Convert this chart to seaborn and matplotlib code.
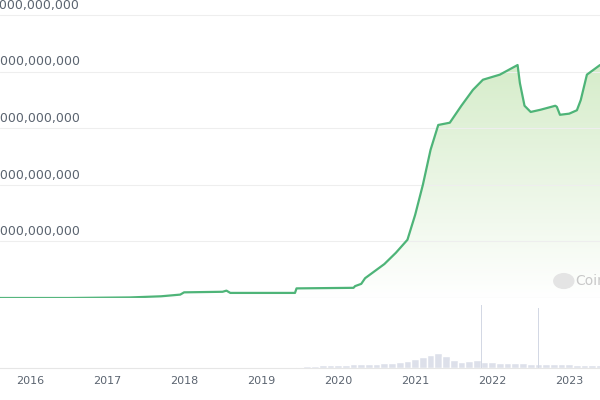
import numpy as np
import pandas as pd
import matplotlib
matplotlib.use('Agg')
import matplotlib.pyplot as plt
import seaborn as sns

# market cap path (decimal year, value in units of 2B)
years = [2015.6, 2016.5, 2017.3, 2017.7, 2017.95, 2018.0, 2018.5, 2018.55, 2018.6, 2019.44, 2019.46,
         2020.2, 2020.22, 2020.3, 2020.35, 2020.5, 2020.6, 2020.75, 2020.9, 2021.0, 2021.1, 2021.2,
         2021.3, 2021.45, 2021.6, 2021.75, 2021.88, 2022.1, 2022.33, 2022.36, 2022.42, 2022.5,
         2022.63, 2022.82, 2022.84, 2022.88, 2023.0, 2023.1, 2023.15, 2023.23, 2023.4]
cap = [0.0, 0.0, 0.01, 0.03, 0.06, 0.1, 0.11, 0.13, 0.09, 0.09, 0.17,
       0.18, 0.21, 0.25, 0.35, 0.5, 0.6, 0.8, 1.03, 1.47, 2.0, 2.62,
       3.06, 3.1, 3.4, 3.68, 3.86, 3.95, 4.12, 3.8, 3.4, 3.29,
       3.33, 3.4, 3.38, 3.24, 3.26, 3.32, 3.5, 3.95, 4.12]
cap_ticks = [1, 2, 3, 4, 5]
cap_labels = ['2,000,000,000', '4,000,000,000', '6,000,000,000', '8,000,000,000', '10,000,000,000']

# volume estimates (relative)
vol_years = [2019.5, 2019.6, 2019.7, 2019.8, 2019.9, 2020.0, 2020.1, 2020.2, 2020.3, 2020.4,
             2020.5, 2020.6, 2020.7, 2020.8, 2020.9, 2021.0, 2021.1, 2021.2, 2021.3, 2021.4,
             2021.5, 2021.6, 2021.7, 2021.8, 2021.9, 2022.0, 2022.1, 2022.2, 2022.3, 2022.4,
             2022.5, 2022.6, 2022.7, 2022.8, 2022.9, 2023.0, 2023.1, 2023.2, 2023.3, 2023.4]
vol = [0.2, 0.3, 0.3, 0.4, 0.4, 0.5, 0.5, 0.6, 0.6, 0.7,
       0.7, 0.8, 0.8, 0.9, 1.1, 1.4, 1.7, 2.0, 2.4, 1.9,
       1.2, 1.0, 1.1, 1.2, 1.0, 0.9, 0.8, 0.8, 0.8, 0.8,
       0.7, 0.7, 0.7, 0.6, 0.6, 0.6, 0.5, 0.5, 0.5, 0.4]
spike_years = [2021.86, 2022.6]
spike_vol = [10.0, 9.6]
year_ticks = [2016, 2017, 2018, 2019, 2020, 2021, 2022, 2023]

sns.set_style('white')
green = '#4eb478'
fig = plt.figure(figsize=(6, 4), dpi=100)
ax = fig.add_axes([0, 1 - 298 / 400, 1, 298 / 400])
ax2 = fig.add_axes([0, 1 - 368 / 400, 1, 66 / 400], sharex=ax)

df = pd.DataFrame({'year': years, 'cap': cap})
sns.lineplot(data=df, x='year', y='cap', ax=ax, color=green, lw=1.6)

# gradient fill under the line
xs = np.linspace(years[0], years[-1], 800)
ys = np.interp(xs, years, cap)
grad = np.linspace(0, 1, 256).reshape(-1, 1)
cmap = matplotlib.colors.LinearSegmentedColormap.from_list('g', ['#ffffff', '#d5ecc9'])
im = ax.imshow(grad, aspect='auto', cmap=cmap, origin='lower',
               extent=[years[0], years[-1], 0, 4.2], zorder=0)
poly = ax.fill_between(xs, ys, 0, color='none')
im.set_clip_path(poly.get_paths()[0], transform=ax.transData)

ax.set_xlim(2015.61, 2023.4)
ax.set_ylim(0, 5.27)
for t in cap_ticks:
    ax.axhline(t, color='#eeeeee', lw=0.8, zorder=0)
ax.axhline(0, color='#e6e6e6', lw=0.8)
for t, lab in zip(cap_ticks, cap_labels):
    ax.text(80 / 600, t + 0.06, lab, transform=ax.get_yaxis_transform(), ha='right',
            va='bottom', fontsize=9, color='#5b6470')
ax.add_patch(plt.Circle((2022.93, 0.3), 0.13, transform=ax.transData, color='#e4e4e4'))
ax.text(2023.08, 0.3, 'CoinGecko', color='#c8c8c8', fontsize=10, va='center')
ax.set_xlabel('')
ax.set_ylabel('')
ax.set_yticks([])
for s in ax.spines.values():
    s.set_visible(False)

ax2.bar(vol_years, vol, width=0.1, color='#dde0ea')
ax2.bar(spike_years, spike_vol, width=0.02, color='#d3d8e4', linewidth=0)
ax2.set_ylim(0, 10.5)
ax2.set_yticks([])
ax2.set_xticks(year_ticks)
ax2.set_xticklabels([str(y) for y in year_ticks], fontsize=8, color='#5b6470')
ax2.tick_params(axis='x', length=4, color='#dddddd', pad=2)
for s in ax2.spines.values():
    s.set_visible(False)
ax2.spines['bottom'].set_visible(True)
ax2.spines['bottom'].set_color('#e6e6e6')
ax.tick_params(axis='x', labelbottom=False, length=0)

fig.savefig('out.png', dpi=100)
